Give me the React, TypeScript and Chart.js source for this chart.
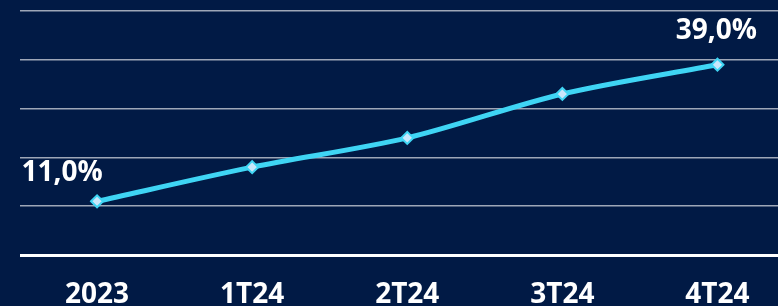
import React, { useEffect, useRef } from "react";
import { Chart, registerables } from "chart.js";

Chart.register(...registerables);

const categories = ["2023", "1T24", "2T24", "3T24", "4T24"];
const values = [11.0, 18.0, 24.0, 33.0, 39.0];
const labeledPoints = [
  { index: 0, text: "11,0%", dx: -35, dy: -28 },
  { index: 4, text: "39,0%", dx: -1, dy: -34 },
];
const yMin = 0;
const yMax = 50;
const yStep = 10;

const BG = "#011a45";
const LINE = "#3fd5f4";
const POINT_FILL = "#c9e7fb";

const labelPlugin = {
  id: "pointLabels",
  afterDatasetsDraw(chart: any) {
    const ctx = chart.ctx;
    const meta = chart.getDatasetMeta(0);
    ctx.save();
    ctx.fillStyle = "#ffffff";
    ctx.font = "bold 28px 'Open Sans', sans-serif";
    ctx.textAlign = "center";
    ctx.textBaseline = "middle";
    for (const lp of labeledPoints) {
      const el = meta.data[lp.index];
      if (!el) continue;
      ctx.fillText(lp.text, el.x + lp.dx, el.y + lp.dy);
    }
    ctx.restore();
  },
};

const bgPlugin = {
  id: "bg",
  beforeDraw(chart: any) {
    const ctx = chart.ctx;
    ctx.save();
    ctx.fillStyle = BG;
    ctx.fillRect(0, 0, chart.width, chart.height);
    ctx.restore();
  },
};

export default function App() {
  const ref = useRef<HTMLCanvasElement | null>(null);
  useEffect(() => {
    document.body.style.margin = "0";
    document.body.style.background = BG;
    if (!ref.current) return;
    const chart = new Chart(ref.current, {
      type: "line",
      data: {
        labels: categories,
        datasets: [
          {
            data: values,
            borderColor: LINE,
            borderWidth: 5,
            tension: 0.3,
            pointStyle: "rectRot",
            pointRadius: 6,
            pointBorderWidth: 2,
            pointBackgroundColor: POINT_FILL,
            pointBorderColor: LINE,
          },
        ],
      },
      options: {
        animation: false,
        responsive: false,
        maintainAspectRatio: false,
        layout: { padding: { top: 11, left: 19.5, right: 0, bottom: 0 } },
        plugins: { legend: { display: false }, tooltip: { enabled: false } },
        scales: {
          x: {
            offset: true,
            grid: { display: false, drawTicks: false },
            border: { display: false },
            ticks: {
              color: "#ffffff",
              font: { family: "'Open Sans', sans-serif", size: 28, weight: "bold" },
              padding: 23,
              maxRotation: 0,
            },
            afterFit: (a: any) => {
              a.height = 51;
            },
          },
          y: {
            min: yMin,
            max: yMax,
            ticks: { display: false, stepSize: yStep },
            border: { display: false },
            grid: {
              drawTicks: false,
              color: (c: any) => (c.tick && c.tick.value === 0 ? "#ffffff" : "rgba(255,255,255,0.62)"),
              lineWidth: (c: any) => (c.tick && c.tick.value === 0 ? 3 : 1.5),
            },
            afterFit: (a: any) => {
              a.width = 0;
            },
          },
        },
      },
      plugins: [bgPlugin, labelPlugin],
    });
    return () => chart.destroy();
  }, []);
  return (
    <div style={{ width: 778, height: 306, overflow: "hidden", background: BG }}>
      <canvas ref={ref} width={803} height={306} style={{ display: "block", width: 803, height: 306 }} />
    </div>
  );
}
